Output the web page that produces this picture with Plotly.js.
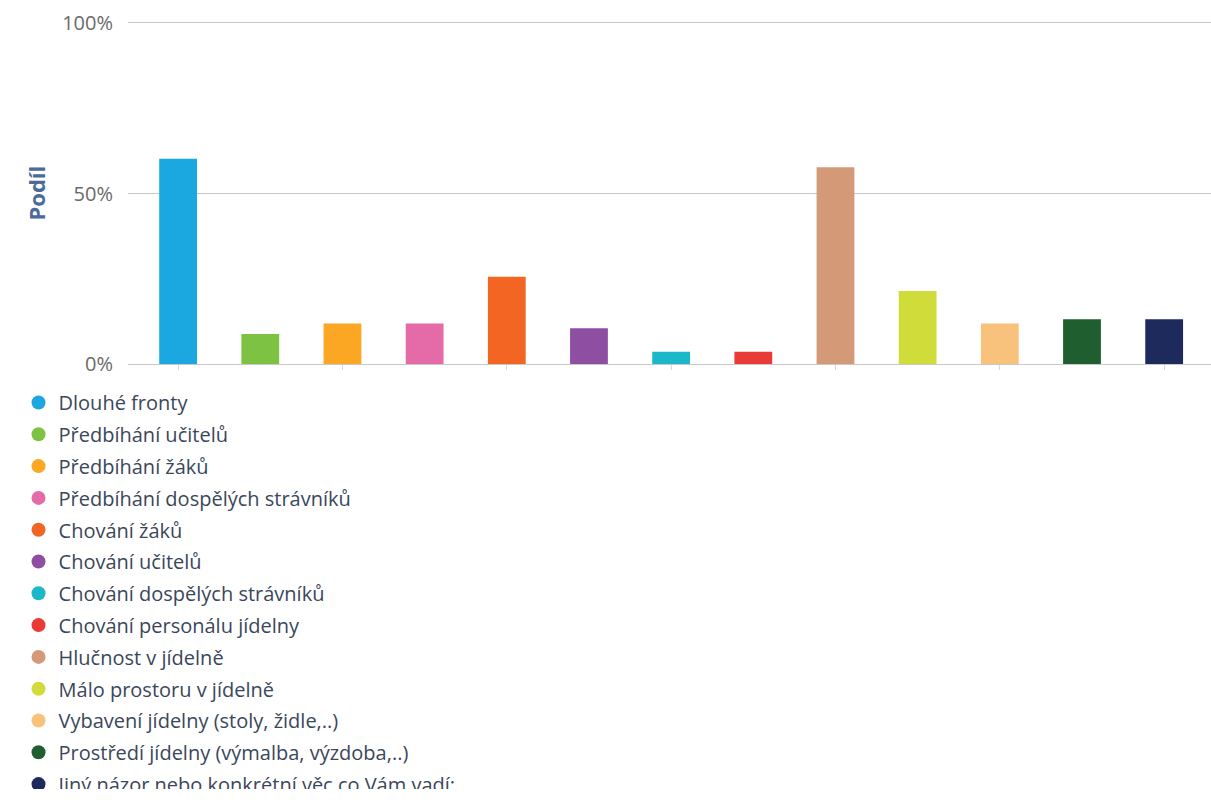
<!DOCTYPE html>
<html>
<head>
<meta charset="utf-8">
<script src="https://cdn.plot.ly/plotly-3.0.1.min.js"></script>
<style>html,body{margin:0;padding:0;background:#fff;overflow:hidden;}#chart{width:1211px;height:812px;}</style>
</head>
<body>
<div id="chart"></div>
<script>
const categories = [
  "Dlouhé fronty",
  "Předbíhání učitelů",
  "Předbíhání žáků",
  "Předbíhání dospělých strávníků",
  "Chování žáků",
  "Chování učitelů",
  "Chování dospělých strávníků",
  "Chování personálu jídelny",
  "Hlučnost v jídelně",
  "Málo prostoru v jídelně",
  "Vybavení jídelny (stoly, židle,..)",
  "Prostředí jídelny (výmalba, výzdoba,..)",
  "Jiný názor nebo konkrétní věc co Vám vadí:"
];
const shares = [60.2, 8.8, 11.9, 11.9, 25.6, 10.5, 3.6, 3.6, 57.7, 21.4, 11.9, 13.1, 13.1];
const colors = ["#1ba7e0", "#7dc243", "#fba724", "#e46aa8", "#f26522", "#8e4fa3", "#1ab8c9",
                "#e93a35", "#d49a77", "#cfdc3a", "#f9c27c", "#1f5e2f", "#1e2a5c"];
const yTickVals = [0, 50, 100];
const yTickText = ["0%", "50%", "100%"];
const yTitle = "Podíl";

const H = 812;
const traces = [];
categories.forEach((c, i) => {
  traces.push({
    type: "bar", x: [c], y: [shares[i]], name: c,
    marker: {color: colors[i]}, showlegend: false, legendgroup: "g" + i,
    hoverinfo: "x+y"
  });
});
categories.forEach((c, i) => {
  traces.push({
    type: "scatter", mode: "markers", x: [c], y: [null], name: c,
    marker: {color: colors[i], size: 14, symbol: "circle"},
    showlegend: true, legendgroup: "g" + i
  });
});

const layout = {
  width: 1211, height: H,
  margin: {l: 128, r: 0, t: 23, b: H - 364, autoexpand: false},
  paper_bgcolor: "#ffffff", plot_bgcolor: "#ffffff",
  font: {family: "Open Sans, sans-serif", color: "#666"},
  bargap: 0.54,
  xaxis: {
    type: "category", categoryarray: categories, categoryorder: "array",
    range: [-0.61, 12.57], showticklabels: false, showgrid: false,
    zeroline: false, showline: true, mirror: true, linecolor: "#c8c8c8", linewidth: 1,
    tickmode: "array", tickvals: categories.filter((c, i) => i % 2 === 0),
    ticks: "outside", ticklen: 5, tickcolor: "#c9dcec"
  },
  yaxis: {
    range: [0, 100], tickvals: yTickVals, ticktext: yTickText,
    showgrid: true, gridcolor: "#c8c8c8", gridwidth: 1, zeroline: false, showline: false,
    tickfont: {size: 20, color: "#6a6a6a"}, ticks: "outside", ticklen: 10, tickcolor: "rgba(0,0,0,0)"
  },
  annotations: [{
    text: "<b>" + yTitle + "</b>", xref: "paper", yref: "paper",
    x: (35 - 128) / 1083, y: 0.5, xanchor: "center", yanchor: "middle",
    textangle: -90, showarrow: false,
    font: {size: 22, color: "#4a6b9a", family: "Open Sans, sans-serif"}
  }],
  showlegend: true,
  legend: {
    orientation: "v", xref: "container", yref: "container",
    x: 0.0153, y: 1 - 383/H, xanchor: "left", yanchor: "top",
    traceorder: "grouped", tracegroupgap: 2.8,
    font: {size: 20, color: "#3a475a"}, bgcolor: "rgba(0,0,0,0)"
  }
};

Plotly.newPlot("chart", traces, layout, {displayModeBar: false, staticPlot: true});
</script>
</body>
</html>
